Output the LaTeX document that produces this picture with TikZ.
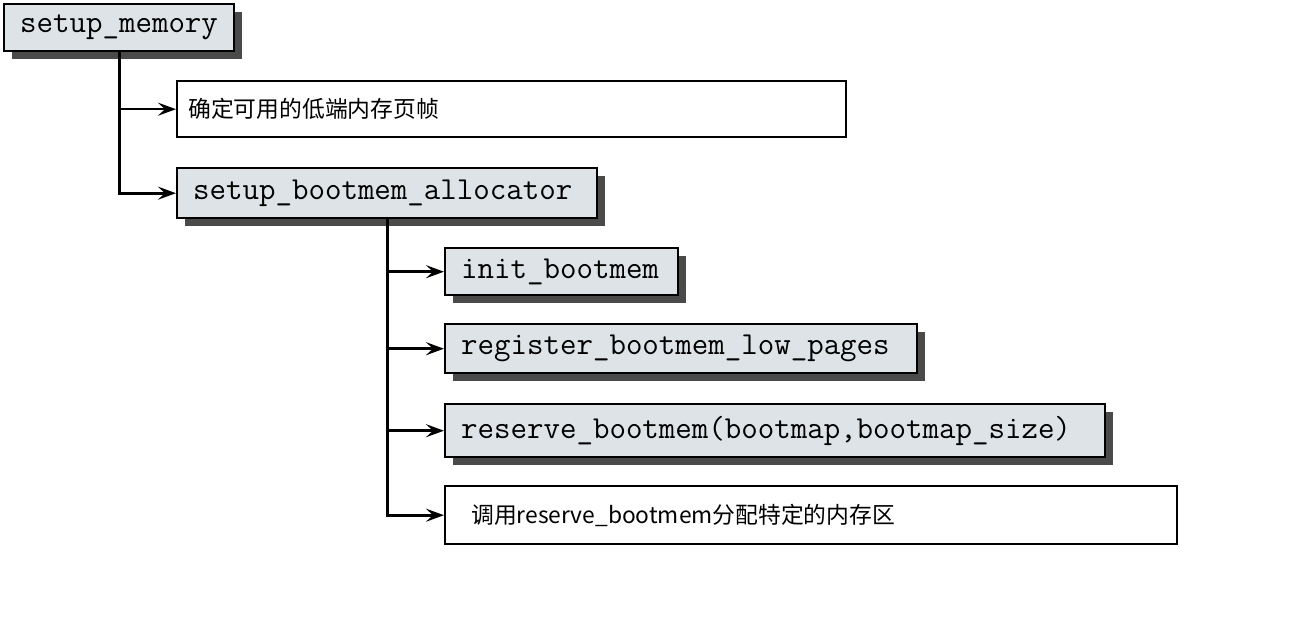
\documentclass[tikz,border=0pt]{standalone}
\usepackage{fontspec}
\usepackage{xcolor}
\usepackage{tikz}
\usetikzlibrary{arrows.meta,positioning,shadows}
\newfontfamily\cjk{Noto Sans CJK SC}
\definecolor{boxgray}{RGB}{221,227,230}
\definecolor{shadowgray}{RGB}{74,74,74}

\begin{document}
\begin{tikzpicture}[x=0.5pt,y=-0.5pt,
  funcbox/.style={draw=black, line width=1.2pt, fill=boxgray, anchor=north west,
    inner xsep=8pt, inner ysep=0pt, align=left, font=\fontsize{16}{16}\selectfont\ttfamily,
    drop shadow={shadow xshift=4pt, shadow yshift=-4pt, fill=shadowgray, opacity=1}},
  notebox/.style={draw=black, line width=1.2pt, fill=white, anchor=north west,
    inner xsep=8pt, inner ysep=0pt, align=left, font=\fontsize{11.4}{12}\selectfont\cjk},
  callarrow/.style={-{Stealth[length=9pt,width=6.5pt,inset=3.5pt]}, line width=1.3pt}]
  \useasboundingbox (0,0) rectangle (1300,642);

  % Top level: setup_memory
  \node[funcbox, minimum height=23.5pt, text width=99pt] (mem) at (3,3) {setup\_memory};

  % First level children
  \node[notebox, minimum height=28pt, text width=323.5pt, inner xsep=5.5pt] (lowpages) at (176,80) {确定可用的低端内存页帧};
  \node[funcbox, minimum height=25pt, text width=194pt] (alloc) at (176,167) {setup\_bootmem\_allocator};

  % Second level children
  \node[funcbox, minimum height=23.5pt, text width=100.5pt] (init) at (444,247) {init\_bootmem};
  \node[funcbox, minimum height=24.5pt, text width=220pt] (register) at (444,323) {register\_bootmem\_low\_pages};
  \node[funcbox, minimum height=26.5pt, text width=314pt] (reserve) at (444,403) {reserve\_bootmem(bootmap,bootmap\_size)};
  \node[notebox, minimum height=29pt, text width=340pt, inner xsep=13pt] (region) at (444,485) {调用reserve\_bootmem分配特定的内存区};

  % Call tree connectors
  \draw[callarrow] (mem.south) |- (lowpages.west);
  \draw[callarrow] (mem.south) |- (alloc.west);
  \foreach \child in {init, register, reserve, region} {
    \draw[callarrow] (alloc.south) |- (\child.west);
  }
\end{tikzpicture}
\end{document}
